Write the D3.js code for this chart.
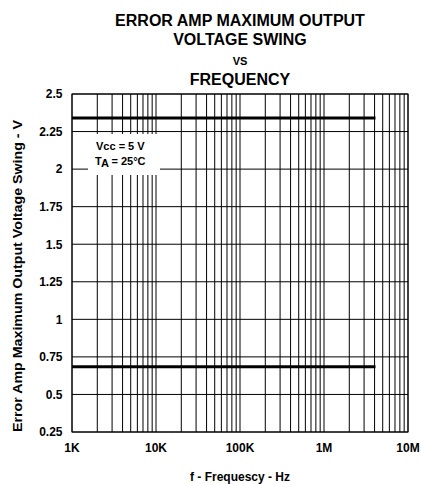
<!DOCTYPE html>
<html>
<head>
<meta charset="utf-8">
<script src="https://cdn.jsdelivr.net/npm/d3@7"></script>
<style>
  body { margin: 0; background: #fff; }
  text { font-family: Arial, "Liberation Sans", sans-serif; font-weight: bold; fill: #000; }
</style>
</head>
<body>
<svg width="421" height="484"></svg>
<script>
// data
var titleLines = ["ERROR AMP MAXIMUM OUTPUT", "VOLTAGE SWING", "VS", "FREQUENCY"];
var xTicks = [1e3, 1e4, 1e5, 1e6, 1e7];
var xTickLabels = ["1K", "10K", "100K", "1M", "10M"];
var yTicks = [0.25, 0.5, 0.75, 1, 1.25, 1.5, 1.75, 2, 2.25, 2.5];
var yTickLabels = ["0.25", "0.5", "0.75", "1", "1.25", "1.5", "1.75", "2", "2.25", "2.5"];
var maxSwing = [[1e3, 2.34], [4.1e6, 2.34]];
var minSwing = [[1e3, 0.685], [4.1e6, 0.685]];

var svg = d3.select("svg"),
    plotL = 72, plotR = 408, plotT = 94, plotB = 432;

var x = d3.scaleLog().domain([1e3, 1e7]).range([plotL, plotR]);
var y = d3.scaleLinear().domain([0.25, 2.5]).range([plotB, plotT]);

// title
var titleY = [25.5, 45, 64.5, 84.5],
    titleSize = [16, 16, 11, 16];
svg.selectAll("text.title")
  .data(titleLines)
  .enter().append("text")
    .attr("class", "title")
    .attr("x", 240)
    .attr("y", function(d, i) { return titleY[i]; })
    .attr("text-anchor", "middle")
    .style("font-size", function(d, i) { return titleSize[i] + "px"; })
    .text(function(d) { return d; });

var g = svg.append("g");

// minor + major vertical grid (1,2..9 per decade)
var vLines = [];
xTicks.forEach(function(t) {
  if (t >= 1e7) return;
  for (var k = 1; k < 10; k++) vLines.push(t * k);
});
vLines.push(1e7);

g.selectAll("line.v")
  .data(vLines)
  .enter().append("line")
    .attr("class", "v")
    .attr("x1", function(d) { return x(d); })
    .attr("x2", function(d) { return x(d); })
    .attr("y1", plotT)
    .attr("y2", plotB)
    .attr("stroke", "#000")
    .attr("stroke-width", 1);

g.selectAll("line.h")
  .data(yTicks)
  .enter().append("line")
    .attr("class", "h")
    .attr("x1", plotL)
    .attr("x2", plotR)
    .attr("y1", function(d) { return y(d); })
    .attr("y2", function(d) { return y(d); })
    .attr("stroke", "#000")
    .attr("stroke-width", 1);

g.append("rect")
  .attr("x", plotL)
  .attr("y", plotT)
  .attr("width", plotR - plotL)
  .attr("height", plotB - plotT)
  .attr("fill", "none")
  .attr("stroke", "#000")
  .attr("stroke-width", 1);

// data lines
var line = d3.line()
  .x(function(d) { return x(d[0]); })
  .y(function(d) { return y(d[1]); });

g.selectAll("path.swing")
  .data([maxSwing, minSwing])
  .enter().append("path")
    .attr("class", "swing")
    .attr("d", line)
    .attr("fill", "none")
    .attr("stroke", "#000")
    .attr("stroke-width", 3);

// legend box hides grid
g.append("rect")
  .attr("x", 88)
  .attr("y", 134)
  .attr("width", 72)
  .attr("height", 41)
  .attr("fill", "#fff");

var t1 = svg.append("text").attr("x", 96).attr("y", 149.5).style("font-size", "11px");
t1.append("tspan").text("V");
t1.append("tspan").text("cc = 5 V");

var t2 = svg.append("text").attr("x", 95).attr("y", 164.5).style("font-size", "11px");
t2.append("tspan").text("T");
t2.append("tspan").attr("dy", 2).text("A");
t2.append("tspan").attr("dy", -2).text(" = 25°C");

// tick labels
svg.selectAll("text.ylab")
  .data(yTicks)
  .enter().append("text")
    .attr("class", "ylab")
    .attr("x", 62.5)
    .attr("y", function(d) { return y(d); })
    .attr("dy", "0.36em")
    .attr("text-anchor", "end")
    .style("font-size", "12px")
    .text(function(d, i) { return yTickLabels[i]; });

svg.selectAll("text.xlab")
  .data(xTicks)
  .enter().append("text")
    .attr("class", "xlab")
    .attr("x", function(d) { return Math.min(x(d), 409.5); })
    .attr("y", 451.5)
    .attr("text-anchor", "middle")
    .style("font-size", "12px")
    .text(function(d, i) { return xTickLabels[i]; });

// axis titles
svg.append("text")
  .attr("x", 240)
  .attr("y", 481)
  .attr("text-anchor", "middle")
  .style("font-size", "12px")
  .text("f - Frequescy - Hz");

svg.append("text")
  .attr("transform", "translate(21.5,276) rotate(-90)")
  .attr("text-anchor", "middle")
  .style("font-size", "12px")
  .attr("textLength", 312)
  .attr("lengthAdjust", "spacingAndGlyphs")
  .text("Error Amp Maximum Output Voltage Swing - V");
</script>
</body>
</html>
